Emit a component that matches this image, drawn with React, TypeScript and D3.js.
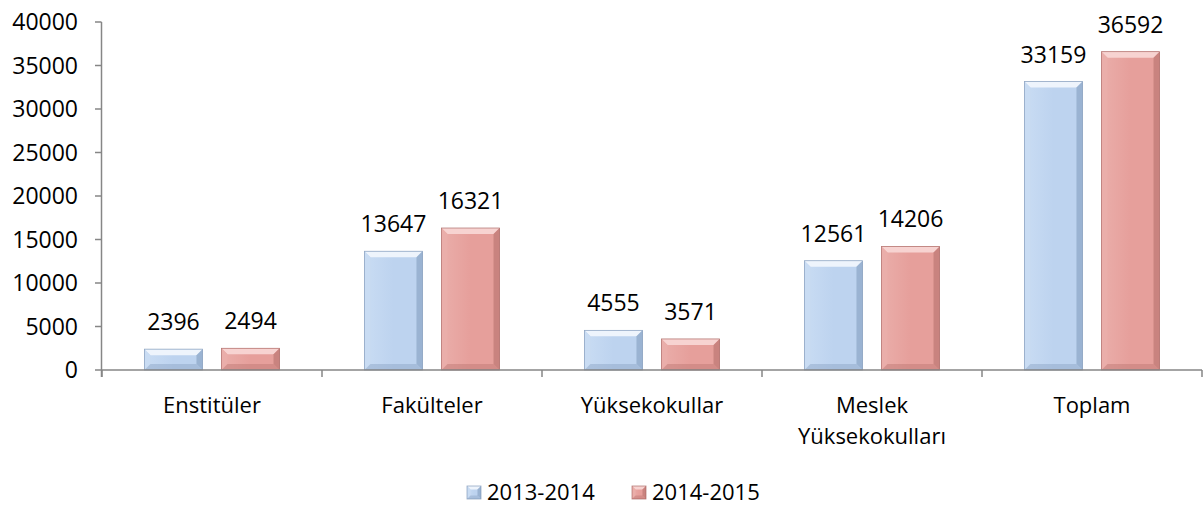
import React from "react";
import * as d3 from "d3";

const categories: string[][] = [
  ["Enstitüler"],
  ["Fakülteler"],
  ["Yüksekokullar"],
  ["Meslek", "Yüksekokulları"],
  ["Toplam"],
];
const seriesNames = ["2013-2014", "2014-2015"];
const values2013 = [2396, 13647, 4555, 12561, 33159];
const values2014 = [2494, 16321, 3571, 14206, 36592];
const yTicks = [0, 5000, 10000, 15000, 20000, 25000, 30000, 35000, 40000];

const W = 1203;
const H = 506;
const FONT = "'Open Sans', 'Noto Sans', sans-serif";
const FS = 22;
const FSN = 23;

const palettes = [
  { main: "#bdd3ef", light: "#eef4fc", mid: "#c9dcf3", dark: "#8fa8c8", edge: "#7d96b6" },
  { main: "#e69f9b", light: "#f7d3d1", mid: "#eaaeaa", dark: "#bf7a76", edge: "#a8635f" },
];

function BevelBar({ x, y, w, h, p, id }: { x: number; y: number; w: number; h: number; p: typeof palettes[0]; id: string }) {
  const b = Math.min(6, h / 3, w / 4);
  const pts = (arr: number[][]) => arr.map((q) => q.join(",")).join(" ");
  return (
    <g>
      <defs>
        <linearGradient id={id} x1="0" x2="1" y1="0" y2="0">
          <stop offset="0" stopColor={p.mid} />
          <stop offset="0.5" stopColor={p.main} />
          <stop offset="1" stopColor={p.main} />
        </linearGradient>
      </defs>
      <rect x={x} y={y} width={w} height={h} fill={`url(#${id})`} />
      <polygon points={pts([[x, y], [x + w, y], [x + w - b, y + b], [x + b, y + b]])} fill={p.light} />
      <polygon points={pts([[x, y], [x + b, y + b], [x + b, y + h - b], [x, y + h]])} fill={p.mid} opacity={0.9} />
      <polygon points={pts([[x + w, y], [x + w, y + h], [x + w - b, y + h - b], [x + w - b, y + b]])} fill={p.dark} opacity={0.75} />
      <polygon points={pts([[x, y + h], [x + b, y + h - b], [x + w - b, y + h - b], [x + w, y + h]])} fill={p.dark} opacity={0.5} />
      <rect x={x} y={y} width={w} height={h} fill="none" stroke={p.edge} strokeWidth={0.8} strokeOpacity={0.8} />
    </g>
  );
}

export default function App() {
  const x0 = d3
    .scaleBand<number>()
    .domain(categories.map((_, i) => i))
    .range([102, 1202])
    .paddingInner(0.386)
    .paddingOuter(0.193);
  const x1 = d3.scaleBand<number>().domain([0, 1]).range([0, x0.bandwidth()]).paddingInner(0.247);
  const y = d3.scaleLinear().domain([0, 40000]).range([370, 22]);
  const series = [values2013, values2014];
  const step = x0.step();
  const boundaries = d3.range(categories.length + 1).map((i) => 102 + i * step);

  return (
    <svg width={W} height={H} style={{ position: "absolute", left: 0, top: 0 }} fontFamily={FONT}>
      <rect width={W} height={H} fill="#ffffff" />
      {/* y axis */}
      <line x1={101.5} x2={101.5} y1={y(40000)} y2={377} stroke="#868686" strokeWidth={1.5} />
      {yTicks.map((t) => (
        <g key={t}>
          <line x1={95} x2={101.5} y1={y(t)} y2={y(t)} stroke="#868686" strokeWidth={1.5} />
          <text x={78} y={y(t)} dy="0.36em" textAnchor="end" fontSize={FSN} fill="#000">
            {t}
          </text>
        </g>
      ))}
      {/* bars */}
      {categories.map((_, ci) =>
        series.map((vals, si) => {
          const bx = (x0(ci) as number) + (x1(si) as number);
          const by = y(vals[ci]);
          const bw = x1.bandwidth();
          const bh = y(0) - by;
          return (
            <g key={`${ci}-${si}`}>
              <BevelBar x={bx} y={by} w={bw} h={bh} p={palettes[si]} id={`g${ci}${si}`} />
              <text x={bx + bw / 2} y={by - 19} textAnchor="middle" fontSize={FSN} fill="#000">
                {vals[ci]}
              </text>
            </g>
          );
        })
      )}
      {/* x axis */}
      <line x1={101.5} x2={1202} y1={370} y2={370} stroke="#868686" strokeWidth={1.5} />
      {boundaries.map((bx, i) => (
        <line key={i} x1={bx} x2={bx} y1={370} y2={377} stroke="#868686" strokeWidth={1.5} />
      ))}
      {categories.map((lines, ci) => (
        <text key={ci} x={(x0(ci) as number) + x0.bandwidth() / 2} y={413} textAnchor="middle" fontSize={FS} fill="#000">
          {lines.map((l, li) => (
            <tspan key={li} x={(x0(ci) as number) + x0.bandwidth() / 2} dy={li === 0 ? 0 : 31}>
              {l}
            </tspan>
          ))}
        </text>
      ))}
      {/* legend */}
      {seriesNames.map((name, si) => {
        const lx = si === 0 ? 467 : 632;
        return (
          <g key={name}>
            <BevelBar x={lx} y={486} w={14} h={13} p={palettes[si]} id={`lg${si}`} />
            <text x={lx + 20} y={500} fontSize={FS} fill="#000">
              {name}
            </text>
          </g>
        );
      })}
    </svg>
  );
}
